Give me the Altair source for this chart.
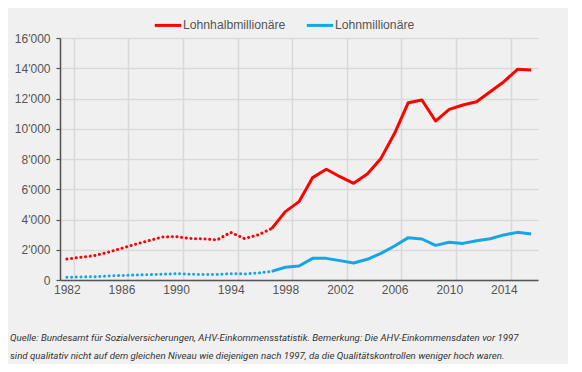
import altair as alt
import pandas as pd

years = list(range(1982, 2017))
halb = [1390, 1500, 1610, 1830, 2090, 2360, 2600, 2840, 2870, 2740, 2720, 2650, 3150, 2740, 2980, 3400,
        4520, 5180, 6770, 7320, 6830, 6390, 7010, 8040, 9700, 11720, 11900, 10510, 11280, 11570, 11790,
        12450, 13110, 13930, 13880]
mill = [180, 200, 220, 260, 300, 330, 350, 380, 420, 380, 360, 370, 420, 400, 460, 570,
        840, 925, 1430, 1430, 1280, 1120, 1370, 1760, 2250, 2800, 2710, 2290, 2490, 2420, 2600,
        2730, 2980, 3150, 3040]
series_names = ["Lohnhalbmillionäre", "Lohnmillionäre"]
colors = ["#ff0000", "#16a6e8"]
break_year = 1997
tick_years = list(range(1982, 2017, 4))
footnote = [
    "Quelle: Bundesamt für Sozialversicherungen, AHV-Einkommensstatistik. Bemerkung: Die AHV-Einkommensdaten vor 1997",
    "sind qualitativ nicht auf dem gleichen Niveau wie diejenigen nach 1997, da die Qualitätskontrollen weniger hoch waren.",
]

rows = []
for name, vals in zip(series_names, [halb, mill]):
    for y, v in zip(years, vals):
        if y <= break_year:
            rows.append({"year": y, "value": v, "series": name, "seg": "pre"})
        if y >= break_year:
            rows.append({"year": y, "value": v, "series": name, "seg": "post"})
df = pd.DataFrame(rows)

x_enc = alt.X("year:O",
              scale=alt.Scale(type="band", domain=years, paddingInner=0, paddingOuter=0),
              axis=alt.Axis(values=tick_years, tickBand="extent", labelAngle=0,
                            ticks=False, grid=True, gridColor="#d9d9d9", gridWidth=1.5,
                            domainColor="#555555", domainWidth=1.5, labelColor="#555555",
                            labelFontSize=12, labelFont="Liberation Sans", labelPadding=4,
                            title=None))
y_enc = alt.Y("value:Q",
              scale=alt.Scale(domain=[0, 16000], nice=False),
              axis=alt.Axis(values=list(range(0, 16001, 2000)),
                            labelExpr="replace(format(datum.value, ','), ',', \"'\")",
                            tickSize=4, tickColor="#555555", tickWidth=1.2,
                            grid=True, gridColor="#d9d9d9", gridWidth=1.5,
                            domainColor="#555555", domainWidth=1.5, labelColor="#555555",
                            labelFontSize=12, labelFont="Liberation Sans", labelPadding=6,
                            title=None))
color_enc = alt.Color("series:N",
                      scale=alt.Scale(domain=series_names, range=colors),
                      legend=alt.Legend(orient="none", direction="horizontal", legendX=93, legendY=-28,
                                        title=None, symbolType="stroke", symbolSize=700,
                                        symbolStrokeWidth=3, labelFontSize=12.2, labelColor="#555555",
                                        labelFont="Liberation Sans", columnPadding=14, labelOffset=0))

solid = alt.Chart(df).transform_filter(alt.datum.seg == "post").mark_line(
    strokeWidth=3, strokeJoin="round").encode(x=x_enc, y=y_enc, color=color_enc, detail="series:N")
dotted = alt.Chart(df).transform_filter(alt.datum.seg == "pre").mark_line(
    strokeWidth=3, strokeCap="round", strokeDash=[0.1, 4.6]).encode(
    x=x_enc, y=y_enc, color=color_enc, detail="series:N")

chart = alt.layer(solid, dotted).properties(
    width=478, height=242,
    autosize=alt.AutoSizeParams(type="none"),
    padding={"left": 52, "top": 30, "right": 30, "bottom": 84},
    background="#f0f0f0",
    title=alt.TitleParams(text=footnote, orient="bottom", anchor="start", frame="group",
                          dx=-50, offset=38,
                          fontSize=9.7, fontStyle="italic", fontWeight="normal",
                          color="#333333", font="Roboto", lineHeight=18),
).configure_view(stroke=None)

chart.save("out.html", embed_options={"renderer": "svg", "actions": False})
